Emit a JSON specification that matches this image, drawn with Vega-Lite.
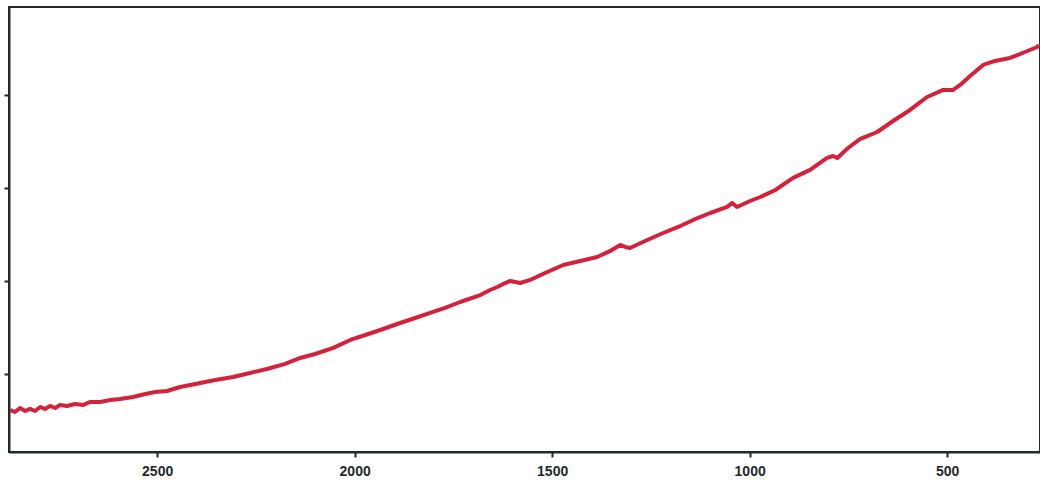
{
  "$schema": "https://vega.github.io/schema/vega-lite/v6.json",
  "width": 1031,
  "height": 445,
  "autosize": {"type": "none"},
  "padding": {"left": 9, "top": 7, "right": 0, "bottom": 32},
  "background": "white",
  "config": {
    "view": {"stroke": "#1f2a2a", "strokeWidth": 2},
    "axis": {"grid": false, "domainColor": "#1f2a2a", "domainWidth": 2, "tickColor": "#1f2a2a", "tickWidth": 2}
  },
  "data": {"values": [
    {"x": 2872, "y": 0.613}, {"x": 2860, "y": 0.591}, {"x": 2847, "y": 0.634}, {"x": 2834, "y": 0.602},
    {"x": 2822, "y": 0.624}, {"x": 2809, "y": 0.602}, {"x": 2796, "y": 0.645}, {"x": 2784, "y": 0.624},
    {"x": 2771, "y": 0.656}, {"x": 2758, "y": 0.634}, {"x": 2746, "y": 0.667}, {"x": 2728, "y": 0.656},
    {"x": 2708, "y": 0.677}, {"x": 2687, "y": 0.667}, {"x": 2670, "y": 0.699}, {"x": 2644, "y": 0.699},
    {"x": 2619, "y": 0.72}, {"x": 2594, "y": 0.731}, {"x": 2561, "y": 0.753}, {"x": 2530, "y": 0.785},
    {"x": 2505, "y": 0.806}, {"x": 2475, "y": 0.817}, {"x": 2442, "y": 0.86}, {"x": 2416, "y": 0.882},
    {"x": 2391, "y": 0.903}, {"x": 2353, "y": 0.935}, {"x": 2308, "y": 0.968}, {"x": 2265, "y": 1.011},
    {"x": 2222, "y": 1.054}, {"x": 2176, "y": 1.108}, {"x": 2138, "y": 1.172}, {"x": 2100, "y": 1.215},
    {"x": 2054, "y": 1.28}, {"x": 2011, "y": 1.366}, {"x": 1973, "y": 1.419}, {"x": 1935, "y": 1.473},
    {"x": 1885, "y": 1.548}, {"x": 1847, "y": 1.602}, {"x": 1809, "y": 1.656}, {"x": 1771, "y": 1.71},
    {"x": 1733, "y": 1.774}, {"x": 1682, "y": 1.849}, {"x": 1657, "y": 1.903}, {"x": 1639, "y": 1.935},
    {"x": 1619, "y": 1.978}, {"x": 1606, "y": 2.0}, {"x": 1581, "y": 1.978}, {"x": 1556, "y": 2.011},
    {"x": 1518, "y": 2.086}, {"x": 1472, "y": 2.172}, {"x": 1429, "y": 2.215}, {"x": 1386, "y": 2.258},
    {"x": 1353, "y": 2.323}, {"x": 1328, "y": 2.387}, {"x": 1315, "y": 2.366}, {"x": 1303, "y": 2.355},
    {"x": 1265, "y": 2.43}, {"x": 1219, "y": 2.516}, {"x": 1181, "y": 2.581}, {"x": 1143, "y": 2.656},
    {"x": 1100, "y": 2.731}, {"x": 1057, "y": 2.796}, {"x": 1044, "y": 2.839}, {"x": 1032, "y": 2.796},
    {"x": 999, "y": 2.86}, {"x": 973, "y": 2.903}, {"x": 935, "y": 2.978}, {"x": 890, "y": 3.108},
    {"x": 847, "y": 3.194}, {"x": 822, "y": 3.269}, {"x": 804, "y": 3.323}, {"x": 789, "y": 3.344},
    {"x": 778, "y": 3.323}, {"x": 751, "y": 3.43}, {"x": 720, "y": 3.527}, {"x": 677, "y": 3.602},
    {"x": 637, "y": 3.72}, {"x": 594, "y": 3.839}, {"x": 551, "y": 3.978}, {"x": 510, "y": 4.054},
    {"x": 485, "y": 4.054}, {"x": 467, "y": 4.108}, {"x": 442, "y": 4.204}, {"x": 409, "y": 4.323},
    {"x": 379, "y": 4.366}, {"x": 341, "y": 4.398}, {"x": 303, "y": 4.462}, {"x": 272, "y": 4.516},
    {"x": 268, "y": 4.538}
  ]},
  "mark": {"type": "line", "color": "#d2233c", "strokeWidth": 4, "clip": true, "strokeJoin": "round"},
  "encoding": {
    "x": {
      "field": "x", "type": "quantitative",
      "scale": {"domain": [265, 2875], "reverse": true, "nice": false, "zero": false},
      "axis": {"title": null, "values": [500, 1000, 1500, 2000, 2500], "tickSize": 5, "labelFont": "Liberation Sans", "labelFontWeight": "bold", "labelFontSize": 14, "labelColor": "#1f2a2a", "labelPadding": 7, "format": "d"}
    },
    "y": {
      "field": "y", "type": "quantitative",
      "scale": {"domain": [0.161, 4.946], "nice": false, "zero": false},
      "axis": {"title": null, "values": [1, 2, 3, 4], "labels": false, "tickSize": 5}
    }
  }
}
